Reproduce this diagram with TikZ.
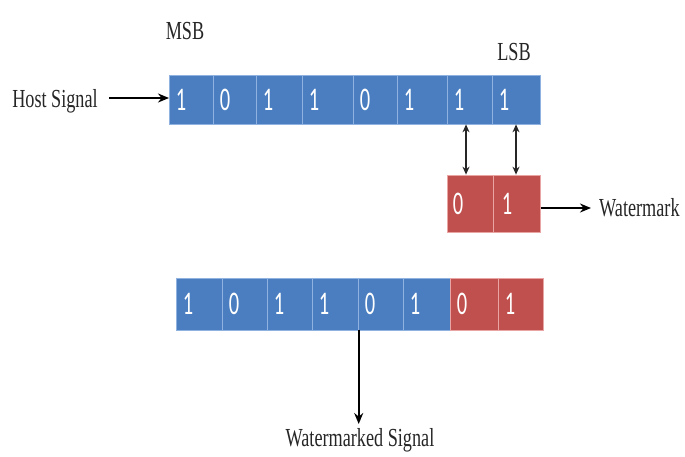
\documentclass[tikz,border=0pt]{standalone}
\usepackage{graphicx}
\usepackage{fontspec}
\setmainfont{Liberation Serif}
\newfontfamily\digitfont{Carlito}
\usetikzlibrary{arrows.meta,calc}
\definecolor{cellblue}{HTML}{4A7EC0}
\definecolor{cellred}{HTML}{C0504D}
\definecolor{blueline}{HTML}{8FB2E0}
\definecolor{redline}{HTML}{E8A5A3}
\newcommand\condtext[1]{\scalebox{0.7}[1]{#1}}
\newcommand\digtext[1]{\scalebox{0.62}[1]{#1}}
\begin{document}
\begin{tikzpicture}[x=1pt,y=-1pt,
  bluecell/.style={draw=blueline, fill=cellblue, line width=0.7pt, inner sep=0pt, anchor=west, minimum height=49pt},
  redcell/.style={draw=redline, fill=cellred, line width=0.7pt, inner sep=0pt, anchor=west, minimum height=49pt},
  digit/.style={text=white, font=\digitfont\fontsize{33}{33}\selectfont, inner sep=0pt},
  lbl/.style={font=\fontsize{26}{26}\selectfont, inner sep=0pt, text=black!85},
  arr/.style={-{Stealth[length=11pt,width=9pt]}, line width=2.2pt, black},
  dbl/.style={{Stealth[length=8pt,width=7pt]}-{Stealth[length=8pt,width=7pt]}, line width=1.7pt, black!85}]
\useasboundingbox (0,0) rectangle (685,456);
% top host signal bar
\foreach \i/\l/\r/\d in {1/169/213/1,2/213/256/0,3/256/302/1,4/302/353/1,5/353/397/0,6/397/447/1,7/447/492/1,8/492/540/1}{
  \node[bluecell, minimum width=\r-\l] (t\i) at (\l,99.5) {};
  \node[digit] (td\i) at ({\l+12},99.5) {\digtext{\d}};
}
% watermark bits
\node[redcell, minimum width=46, minimum height=57] (w1) at (447,203.5) {};
\node[redcell, minimum width=47, minimum height=57] (w2) at (493,203.5) {};
\node[digit] (wd1) at (458,203.5) {\digtext{0}};
\node[digit] (wd2) at (507,203.5) {\digtext{1}};
% watermarked signal bar
\foreach \i/\l/\r/\d in {1/176/222/1,2/222/267/0,3/267/312/1,4/312/358/1,5/358/403/0,6/403/450/1}{
  \node[bluecell, minimum width=\r-\l, minimum height=52] (b\i) at (\l,304) {};
  \node[digit] (bd\i) at ({\l+12},304) {\digtext{\d}};
}
\foreach \i/\l/\r/\d in {7/450/498/0,8/498/543/1}{
  \node[redcell, minimum width=\r-\l, minimum height=52] (b\i) at (\l,304) {};
  \node[digit] (bd\i) at ({\l+12},304) {\digtext{\d}};
}
% labels
\node[lbl] (msb) at (185,31) {\condtext{MSB}};
\node[lbl] (lsb) at (514,52) {\condtext{LSB}};
\node[lbl] (host) at (55,101) {\condtext{Host Signal}};
\node[lbl, anchor=west] (wm) at (599,208) {\condtext{Watermark}};
\node[lbl] (wms) at (360,440) {\condtext{Watermarked Signal}};
% connectors
\coordinate (hs) at ($(host.east)+(11,-3)$);
\draw[arr] (hs) -- (t1.west |- hs);
\coordinate (da) at (466,0);
\coordinate (db) at (516,0);
\coordinate (wy) at (0,208);
\coordinate (dy) at (0,424);
\draw[dbl] (t7.south -| da) -- (w1.north -| da);
\draw[dbl] (t8.south -| db) -- (w2.north -| db);
\draw[arr, shorten >=8pt] (w2.east |- wy) -- (wm.west);
\draw[arr] (b4.south east) -- (b4.south east |- dy);
\end{tikzpicture}
\end{document}
